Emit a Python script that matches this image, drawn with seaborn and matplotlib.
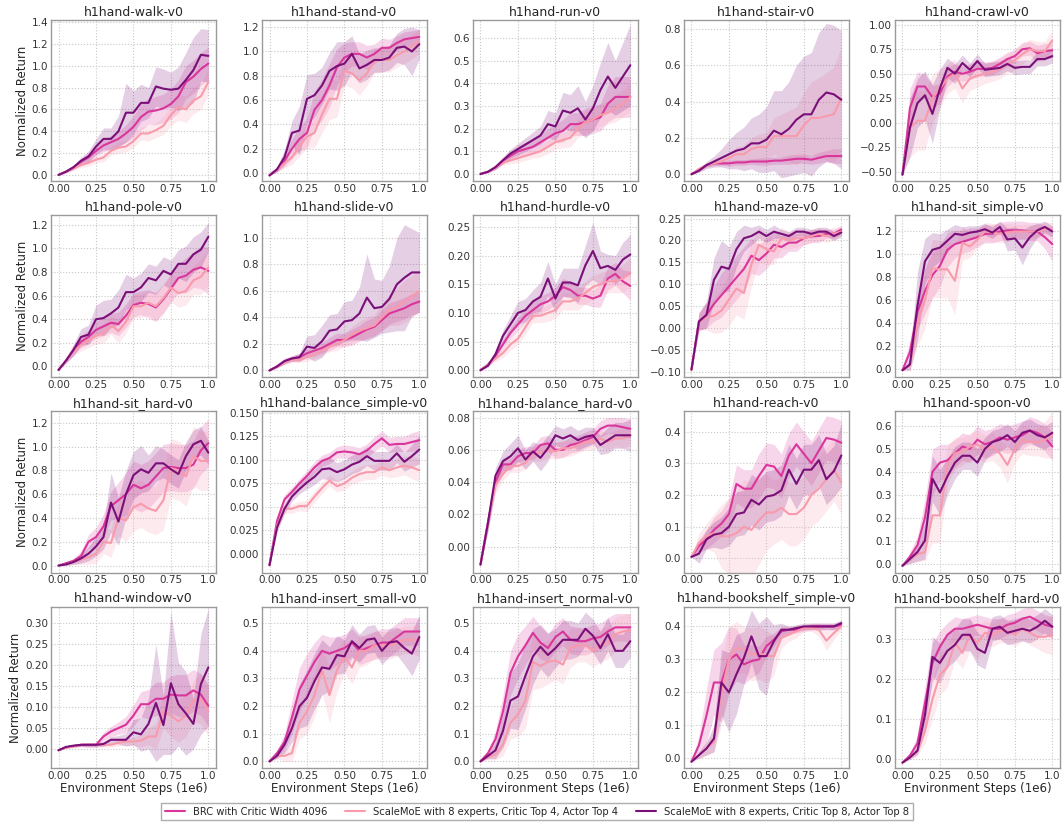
import numpy as np
import pandas as pd
import matplotlib
matplotlib.use("Agg")
import matplotlib.pyplot as plt
import seaborn as sns

# ---------------------------------------------------------------------------
# Evaluation steps (millions of environment steps)
STEPS = [0.00, 0.05, 0.10, 0.15, 0.20, 0.25, 0.30, 0.35, 0.40, 0.45, 0.50,
         0.55, 0.60, 0.65, 0.70, 0.75, 0.80, 0.85, 0.90, 0.95, 1.00]

METHODS = ["BRC with Critic Width 4096",
           "ScaleMoE with 8 experts, Critic Top 4, Actor Top 4",
           "ScaleMoE with 8 experts, Critic Top 8, Actor Top 8"]

# --- h1hand-walk-v0 --------------------------------------------------------
WALK_BRC = [0, .03, .07, .12, .16, .22, .27, .30, .33, .38, .44, .53, .58, .59, .61, .65, .72, .85, .90, .97, 1.02]
WALK_TOP4 = [0, .03, .06, .09, .11, .14, .16, .22, .25, .26, .31, .38, .38, .41, .45, .55, .62, .60, .68, .72, .85]
WALK_TOP8 = [0, .03, .07, .13, .17, .26, .33, .33, .40, .57, .57, .66, .66, .81, .79, .78, .79, .87, .96, 1.10, 1.09]
WALK_BRC_SD = [0, .01, .02, .03, .04, .05, .06, .06, .07, .08, .10, .12, .12, .13, .13, .14, .15, .15, .15, .15, .15]
WALK_TOP4_SD = [0, .01, .02, .02, .03, .03, .04, .04, .05, .05, .06, .06, .07, .07, .08, .10, .12, .12, .12, .12, .12]
WALK_TOP8_SD = [0, .01, .02, .03, .05, .07, .10, .10, .14, .27, .20, .17, .14, .18, .18, .16, .20, .25, .30, .24, .24]

# --- h1hand-stand-v0 -------------------------------------------------------
STAND_BRC = [-.02, .03, .10, .20, .28, .33, .52, .60, .72, .87, .95, .98, .98, .95, .98, 1.03, 1.03, 1.07, 1.10, 1.11, 1.12]
STAND_TOP4 = [-.02, .03, .08, .13, .22, .30, .33, .48, .61, .61, .84, .82, .76, .82, .92, .93, .93, .97, 1.00, 1.04, 1.08]
STAND_TOP8 = [-.02, .03, .13, .33, .35, .61, .64, .72, .84, .88, .90, .98, .86, .89, .93, .93, .95, 1.03, 1.04, 1.00, 1.06]
STAND_BRC_SD = [0, .02, .05, .08, .10, .12, .15, .17, .18, .15, .12, .10, .10, .10, .08, .08, .07, .06, .06, .06, .06]
STAND_TOP4_SD = [0, .02, .04, .06, .08, .10, .12, .15, .17, .15, .12, .12, .12, .10, .10, .10, .10, .10, .10, .10, .10]
STAND_TOP8_SD = [0, .02, .06, .10, .20, .20, .18, .15, .15, .20, .18, .15, .12, .12, .10, .10, .10, .12, .15, .20, .12]

# --- h1hand-run-v0 ---------------------------------------------------------
RUN_BRC = [0, .01, .03, .06, .08, .10, .11, .12, .14, .16, .18, .19, .22, .22, .23, .24, .25, .31, .34, .34, .34]
RUN_TOP4 = [0, .01, .03, .05, .06, .07, .08, .09, .10, .12, .14, .15, .16, .20, .23, .24, .26, .27, .29, .31, .34]
RUN_TOP8 = [0, .01, .03, .06, .09, .11, .13, .15, .17, .22, .21, .28, .27, .29, .24, .29, .37, .43, .38, .43, .48]
RUN_BRC_SD = [0, .005, .01, .015, .02, .025, .03, .03, .035, .04, .04, .05, .05, .05, .06, .06, .06, .08, .09, .09, .09]
RUN_TOP4_SD = [0, .005, .01, .01, .015, .02, .02, .02, .025, .03, .03, .035, .04, .04, .05, .05, .05, .05, .06, .06, .06]
RUN_TOP8_SD = [0, .005, .01, .015, .02, .025, .03, .035, .04, .06, .06, .08, .08, .10, .08, .10, .12, .15, .12, .15, .18]

# --- h1hand-stair-v0 -------------------------------------------------------
STAIR_BRC = [0, .02, .05, .06, .06, .06, .065, .065, .07, .07, .07, .075, .075, .08, .085, .085, .08, .09, .10, .10, .10]
STAIR_TOP4 = [0, .03, .05, .06, .07, .09, .11, .11, .14, .15, .15, .21, .21, .21, .21, .27, .31, .31, .32, .33, .42]
STAIR_TOP8 = [0, .02, .05, .07, .09, .11, .13, .14, .17, .17, .19, .24, .22, .25, .30, .33, .33, .41, .45, .44, .41]
STAIR_BRC_SD = [0, .005, .01, .01, .01, .015, .015, .015, .015, .02, .02, .02, .02, .025, .025, .025, .025, .03, .03, .04, .04]
STAIR_TOP4_SD = [0, .01, .01, .015, .02, .03, .04, .05, .06, .07, .08, .10, .12, .14, .16, .18, .20, .22, .24, .26, .28]
STAIR_TOP8_SD = [0, .01, .02, .03, .05, .08, .10, .12, .14, .16, .18, .22, .24, .26, .30, .32, .34, .37, .38, .38, .38]

# --- h1hand-crawl-v0 -------------------------------------------------------
CRAWL_BRC = [-.53, .15, .37, .37, .26, .30, .47, .52, .50, .52, .55, .55, .56, .60, .65, .68, .75, .76, .71, .73, .74]
CRAWL_TOP4 = [-.53, -.05, .02, .02, .25, .35, .45, .50, .35, .45, .48, .50, .52, .55, .60, .64, .70, .75, .73, .73, .84]
CRAWL_TOP8 = [-.53, -.05, .20, .28, .09, .35, .56, .50, .61, .54, .63, .54, .55, .56, .60, .56, .57, .57, .65, .65, .68]
CRAWL_BRC_SD = [0, .20, .15, .12, .12, .10, .10, .08, .08, .08, .08, .07, .07, .07, .07, .07, .07, .07, .08, .08, .08]
CRAWL_TOP4_SD = [0, .30, .30, .30, .25, .20, .15, .15, .15, .12, .12, .10, .10, .10, .10, .10, .10, .10, .10, .10, .10]
CRAWL_TOP8_SD = [0, .30, .25, .25, .30, .20, .10, .10, .08, .07, .07, .07, .07, .07, .07, .07, .07, .07, .07, .07, .07]

# --- h1hand-pole-v0 --------------------------------------------------------
POLE_BRC = [-.03, .05, .14, .21, .25, .31, .34, .37, .36, .43, .52, .54, .53, .50, .57, .66, .75, .77, .82, .84, .81]
POLE_TOP4 = [-.03, .05, .13, .18, .22, .26, .28, .35, .30, .38, .51, .51, .54, .51, .58, .67, .62, .64, .73, .76, .84]
POLE_TOP8 = [-.03, .05, .14, .25, .27, .40, .41, .45, .50, .63, .63, .67, .75, .73, .81, .78, .87, .87, .95, .99, 1.10]
POLE_BRC_SD = [0, .02, .04, .05, .06, .07, .08, .08, .10, .10, .10, .10, .12, .12, .12, .12, .12, .15, .15, .18, .20]
POLE_TOP4_SD = [0, .02, .04, .05, .06, .07, .08, .08, .10, .10, .10, .10, .10, .12, .12, .12, .12, .12, .12, .15, .15]
POLE_TOP8_SD = [0, .02, .05, .07, .08, .12, .15, .12, .15, .15, .12, .12, .12, .12, .12, .12, .12, .15, .15, .15, .12]

# --- h1hand-slide-v0 -------------------------------------------------------
SLIDE_BRC = [0, .03, .07, .09, .10, .13, .15, .17, .20, .23, .23, .25, .28, .31, .33, .38, .43, .45, .47, .50, .52]
SLIDE_TOP4 = [0, .03, .06, .08, .08, .10, .12, .15, .18, .20, .23, .27, .30, .32, .34, .40, .46, .48, .52, .56, .60]
SLIDE_TOP8 = [0, .03, .07, .09, .10, .18, .17, .22, .30, .31, .37, .38, .43, .55, .47, .48, .54, .65, .70, .74, .74]
SLIDE_BRC_SD = [0, .01, .02, .02, .03, .03, .04, .04, .05, .05, .05, .06, .06, .07, .07, .08, .08, .08, .08, .08, .08]
SLIDE_TOP4_SD = [0, .01, .02, .02, .02, .03, .03, .04, .04, .05, .05, .06, .07, .08, .08, .10, .12, .14, .16, .16, .16]
SLIDE_TOP8_SD = [0, .01, .02, .02, .03, .08, .10, .12, .12, .12, .15, .15, .20, .33, .22, .20, .25, .35, .40, .33, .30]

# --- h1hand-hurdle-v0 ------------------------------------------------------
HURDLE_BRC = [0, .01, .025, .045, .065, .08, .095, .105, .115, .12, .13, .145, .14, .13, .13, .125, .13, .16, .168, .155, .147]
HURDLE_TOP4 = [0, .01, .02, .03, .045, .055, .075, .095, .095, .10, .105, .12, .12, .125, .135, .145, .15, .155, .155, .16, .17]
HURDLE_TOP8 = [0, .008, .028, .06, .08, .10, .105, .12, .128, .16, .125, .153, .153, .148, .183, .208, .178, .182, .175, .193, .202]
HURDLE_BRC_SD = [0, .003, .005, .008, .01, .012, .012, .015, .015, .015, .015, .015, .015, .015, .015, .015, .02, .02, .02, .02, .025]
HURDLE_TOP4_SD = [0, .003, .005, .008, .01, .01, .012, .012, .012, .015, .015, .015, .015, .02, .02, .02, .02, .02, .02, .025, .025]
HURDLE_TOP8_SD = [0, .003, .006, .01, .015, .02, .02, .02, .025, .03, .025, .025, .025, .03, .035, .05, .03, .02, .025, .03, .035]

# --- h1hand-maze-v0 --------------------------------------------------------
MAZE_BRC = [-.095, .015, .03, .055, .075, .095, .115, .135, .165, .155, .17, .19, .185, .195, .195, .205, .21, .21, .215, .215, .225]
MAZE_TOP4 = [-.095, .015, .025, .028, .04, .065, .09, .08, .145, .19, .18, .175, .205, .20, .205, .205, .21, .215, .21, .215, .22]
MAZE_TOP8 = [-.095, .015, .03, .11, .14, .135, .18, .205, .21, .22, .21, .22, .215, .21, .22, .22, .215, .22, .22, .21, .218]
MAZE_BRC_SD = [0, .02, .03, .04, .05, .05, .05, .05, .04, .035, .035, .03, .025, .02, .02, .015, .015, .015, .01, .01, .01]
MAZE_TOP4_SD = [0, .02, .03, .04, .05, .06, .06, .06, .05, .04, .035, .03, .025, .02, .02, .015, .015, .015, .015, .015, .01]
MAZE_TOP8_SD = [0, .02, .03, .05, .06, .05, .04, .03, .02, .015, .015, .015, .01, .01, .01, .01, .01, .01, .01, .01, .01]

# --- h1hand-sit_simple-v0 --------------------------------------------------
SITS_BRC = [-.01, .15, .50, .68, .82, .90, 1.04, 1.09, 1.11, 1.13, 1.15, 1.18, 1.18, 1.20, 1.21, 1.21, 1.21, 1.20, 1.20, 1.15, 1.09]
SITS_TOP4 = [-.01, .03, .40, .60, .88, .87, .87, .77, 1.10, 1.07, 1.13, 1.20, 1.19, 1.18, 1.19, 1.20, 1.20, 1.20, 1.20, 1.22, 1.22]
SITS_TOP8 = [-.01, .04, .55, .94, 1.04, 1.06, 1.12, 1.18, 1.17, 1.19, 1.20, 1.22, 1.19, 1.24, 1.13, 1.14, 1.06, 1.15, 1.21, 1.24, 1.20]
SITS_BRC_SD = [0, .10, .15, .20, .20, .18, .15, .12, .10, .10, .08, .08, .08, .08, .08, .08, .08, .08, .08, .10, .15]
SITS_TOP4_SD = [0, .05, .20, .25, .25, .25, .25, .30, .15, .10, .08, .08, .08, .08, .08, .06, .06, .06, .06, .06, .06]
SITS_TOP8_SD = [0, .05, .30, .20, .15, .12, .10, .08, .07, .06, .05, .05, .05, .05, .10, .10, .15, .10, .06, .05, .05]

# --- h1hand-sit_hard-v0 ----------------------------------------------------
SITH_BRC = [0, .02, .04, .08, .20, .24, .33, .50, .55, .60, .68, .65, .68, .75, .82, .83, .82, .82, .85, .97, 1.03]
SITH_TOP4 = [0, .01, .03, .05, .07, .10, .20, .19, .40, .38, .49, .52, .48, .46, .55, .82, .80, .75, .92, .88, .88]
SITH_TOP8 = [0, .01, .03, .06, .10, .16, .24, .53, .37, .60, .76, .81, .78, .86, .86, .81, .77, .92, 1.02, 1.05, .95]
SITH_BRC_SD = [0, .01, .02, .04, .06, .08, .10, .12, .15, .18, .20, .20, .20, .20, .20, .20, .20, .20, .20, .20, .20]
SITH_TOP4_SD = [0, .01, .02, .04, .06, .08, .10, .12, .15, .18, .20, .20, .20, .20, .25, .25, .25, .25, .25, .25, .25]
SITH_TOP8_SD = [0, .01, .02, .04, .06, .08, .10, .25, .20, .20, .20, .20, .15, .15, .12, .12, .12, .12, .12, .12, .10]

# --- h1hand-balance_simple-v0 ----------------------------------------------
BALS_BRC = [-.012, .035, .058, .066, .075, .083, .092, .099, .102, .108, .109, .108, .106, .110, .117, .123, .116, .117, .117, .119, .121]
BALS_TOP4 = [-.012, .030, .048, .048, .051, .051, .061, .070, .078, .072, .075, .081, .085, .087, .087, .092, .089, .092, .094, .092, .089]
BALS_TOP8 = [-.012, .028, .048, .061, .069, .076, .082, .090, .091, .087, .090, .095, .098, .104, .099, .099, .099, .107, .098, .104, .111]
BALS_BRC_SD = [0, .005, .005, .005, .005, .006, .006, .006, .006, .006, .007, .007, .007, .007, .008, .008, .008, .008, .008, .010, .010]
BALS_TOP4_SD = [0, .005, .005, .005, .005, .006, .006, .006, .006, .006, .007, .007, .008, .008, .008, .008, .008, .010, .010, .012, .012]
BALS_TOP8_SD = [0, .005, .005, .005, .005, .007, .008, .010, .012, .010, .010, .010, .010, .010, .010, .010, .010, .010, .010, .012, .015]

# --- h1hand-balance_hard-v0 ------------------------------------------------
BALH_BRC = [-.011, .015, .040, .051, .051, .056, .058, .058, .063, .064, .060, .060, .063, .064, .066, .068, .073, .075, .075, .074, .073]
BALH_TOP4 = [-.011, .015, .038, .045, .050, .050, .052, .058, .058, .060, .059, .061, .061, .063, .065, .065, .067, .065, .067, .067, .069]
BALH_TOP8 = [-.011, .015, .044, .053, .056, .061, .054, .059, .055, .061, .069, .067, .069, .066, .068, .069, .063, .066, .069, .069, .069]
BALH_BRC_SD = [0, .005, .005, .004, .004, .004, .004, .004, .005, .005, .005, .005, .005, .005, .005, .005, .005, .005, .005, .006, .006]
BALH_TOP4_SD = [0, .005, .005, .004, .004, .004, .004, .005, .005, .005, .005, .005, .005, .005, .005, .005, .005, .005, .005, .006, .006]
BALH_TOP8_SD = [0, .005, .005, .006, .008, .008, .006, .006, .008, .008, .006, .006, .006, .006, .006, .005, .006, .008, .008, .008, .010]

# --- h1hand-reach-v0 -------------------------------------------------------
REACH_BRC = [.005, .04, .06, .09, .11, .14, .235, .22, .22, .26, .295, .29, .26, .325, .36, .33, .30, .34, .38, .375, .365]
REACH_TOP4 = [.005, .05, .07, .08, .07, .07, .08, .10, .09, .12, .145, .145, .16, .14, .14, .16, .20, .22, .25, .28, .24]
REACH_TOP8 = [.005, .015, .06, .075, .08, .10, .14, .145, .185, .17, .195, .20, .215, .28, .235, .28, .28, .31, .25, .275, .325]
REACH_BRC_SD = [0, .02, .03, .04, .04, .05, .06, .06, .06, .07, .07, .07, .07, .07, .07, .07, .07, .07, .07, .07, .07]
REACH_TOP4_SD = [0, .03, .04, .06, .10, .12, .13, .15, .15, .14, .12, .10, .10, .10, .10, .10, .10, .10, .10, .10, .10]
REACH_TOP8_SD = [0, .03, .03, .04, .05, .06, .07, .07, .08, .08, .08, .08, .08, .08, .08, .08, .08, .08, .08, .08, .10]

# --- h1hand-spoon-v0 -------------------------------------------------------
SPOON_BRC = [-.01, .03, .08, .20, .40, .44, .45, .48, .51, .50, .54, .52, .53, .55, .54, .55, .56, .58, .57, .55, .51]
SPOON_TOP4 = [-.01, .02, .04, .05, .21, .21, .43, .48, .49, .51, .52, .50, .51, .48, .43, .50, .54, .53, .53, .54, .56]
SPOON_TOP8 = [-.01, .02, .05, .10, .37, .31, .38, .44, .47, .47, .44, .50, .53, .54, .56, .53, .57, .58, .56, .55, .57]
SPOON_BRC_SD = [0, .02, .04, .08, .10, .08, .07, .06, .06, .06, .06, .06, .06, .06, .06, .06, .06, .06, .06, .06, .06]
SPOON_TOP4_SD = [0, .02, .03, .04, .12, .12, .08, .07, .06, .06, .06, .06, .06, .06, .08, .06, .06, .06, .06, .08, .10]
SPOON_TOP8_SD = [0, .02, .04, .08, .10, .10, .08, .07, .06, .06, .06, .05, .05, .05, .05, .05, .05, .05, .05, .05, .05]

# --- h1hand-window-v0 ------------------------------------------------------
WINDOW_BRC = [-.003, .004, .007, .01, .01, .01, .03, .042, .05, .058, .08, .107, .107, .12, .12, .13, .128, .128, .14, .13, .103]
WINDOW_TOP4 = [-.003, .003, .006, .01, .01, .01, .01, .01, .015, .018, .018, .02, .03, .03, .09, .08, .066, .08, .115, .12, .09]
WINDOW_TOP8 = [-.003, .005, .008, .01, .01, .01, .012, .022, .022, .022, .04, .035, .06, .11, .057, .157, .107, .085, .06, .155, .195]
WINDOW_BRC_SD = [0, .002, .003, .004, .005, .005, .01, .012, .015, .02, .025, .03, .035, .04, .04, .045, .05, .05, .05, .05, .05]
WINDOW_TOP4_SD = [0, .002, .003, .004, .005, .005, .005, .006, .008, .01, .01, .015, .02, .03, .04, .05, .05, .05, .05, .06, .06]
WINDOW_TOP8_SD = [0, .002, .003, .004, .005, .005, .006, .008, .01, .015, .03, .04, .06, .14, .07, .17, .10, .10, .06, .12, .14]

# --- h1hand-insert_small-v0 ------------------------------------------------
INSS_BRC = [0, .03, .07, .16, .26, .31, .36, .40, .39, .40, .41, .43, .40, .41, .42, .43, .43, .45, .47, .47, .47]
INSS_TOP4 = [0, .02, .02, .03, .14, .18, .24, .33, .24, .33, .38, .34, .40, .40, .42, .42, .42, .43, .44, .44, .44]
INSS_TOP8 = [0, .02, .06, .12, .20, .23, .29, .34, .335, .385, .38, .435, .41, .44, .445, .40, .43, .435, .41, .39, .45]
INSS_BRC_SD = [0, .01, .03, .06, .08, .08, .07, .06, .06, .05, .05, .05, .05, .05, .05, .05, .05, .05, .05, .05, .05]
INSS_TOP4_SD = [0, .01, .02, .03, .06, .08, .08, .08, .10, .08, .06, .06, .06, .05, .05, .05, .05, .05, .05, .05, .06]
INSS_TOP8_SD = [0, .01, .03, .05, .08, .10, .10, .10, .08, .07, .06, .06, .05, .05, .05, .05, .05, .05, .06, .08, .08]

# --- h1hand-insert_normal-v0 -----------------------------------------------
INSN_BRC = [0, .03, .08, .18, .32, .38, .42, .465, .43, .41, .45, .47, .44, .435, .435, .445, .45, .47, .485, .485, .485]
INSN_TOP4 = [0, .015, .025, .06, .14, .17, .22, .36, .345, .36, .365, .35, .41, .42, .42, .40, .42, .43, .46, .47, .475]
INSN_TOP8 = [0, .02, .04, .11, .22, .235, .31, .38, .415, .385, .41, .44, .44, .44, .48, .455, .41, .46, .40, .40, .435]
INSN_BRC_SD = [0, .01, .03, .06, .08, .08, .07, .06, .06, .05, .05, .05, .05, .05, .05, .05, .05, .05, .05, .05, .05]
INSN_TOP4_SD = [0, .01, .02, .04, .06, .08, .10, .10, .08, .08, .07, .07, .07, .06, .06, .06, .06, .06, .06, .06, .06]
INSN_TOP8_SD = [0, .01, .03, .06, .10, .12, .12, .10, .08, .08, .07, .07, .07, .06, .06, .06, .06, .06, .06, .06, .06]

# --- h1hand-bookshelf_simple-v0 --------------------------------------------
BOOKS_BRC = [-.01, .04, .13, .23, .23, .30, .315, .285, .295, .30, .34, .36, .385, .39, .39, .395, .40, .40, .40, .40, .405]
BOOKS_TOP4 = [-.01, .01, .03, .05, .20, .30, .335, .33, .315, .32, .31, .31, .365, .375, .385, .395, .395, .39, .357, .38, .40]
BOOKS_TOP8 = [-.01, .01, .03, .06, .23, .20, .255, .305, .37, .31, .31, .355, .39, .39, .395, .40, .40, .40, .40, .40, .41]
BOOKS_BRC_SD = [0, .03, .08, .10, .12, .10, .08, .06, .05, .04, .03, .02, .015, .01, .01, .01, .01, .01, .01, .01, .01]
BOOKS_TOP4_SD = [0, .01, .02, .03, .10, .10, .08, .07, .08, .08, .08, .06, .03, .02, .02, .01, .01, .02, .03, .02, .01]
BOOKS_TOP8_SD = [0, .01, .02, .04, .10, .12, .12, .08, .08, .10, .12, .05, .02, .01, .01, .01, .01, .01, .01, .01, .01]

# --- h1hand-bookshelf_hard-v0 ----------------------------------------------
BOOKH_BRC = [-.008, .01, .04, .14, .24, .28, .31, .325, .325, .33, .335, .33, .325, .325, .335, .34, .35, .355, .345, .335, .33]
BOOKH_TOP4 = [-.008, .005, .02, .07, .15, .21, .23, .29, .265, .31, .29, .315, .31, .32, .32, .31, .325, .315, .305, .305, .31]
BOOKH_TOP8 = [-.008, .005, .022, .11, .255, .24, .27, .285, .31, .31, .275, .265, .325, .33, .315, .32, .325, .32, .33, .345, .33]
BOOKH_BRC_SD = [0, .005, .02, .04, .05, .04, .03, .03, .025, .025, .025, .025, .025, .025, .025, .025, .025, .025, .025, .025, .025]
BOOKH_TOP4_SD = [0, .005, .01, .03, .05, .05, .05, .04, .04, .04, .04, .03, .03, .03, .03, .03, .03, .03, .03, .04, .05]
BOOKH_TOP8_SD = [0, .005, .01, .04, .05, .05, .04, .04, .04, .04, .04, .04, .03, .03, .03, .03, .03, .03, .03, .03, .03]

# Task name, means (BRC, Top4, Top8), spreads, y-axis limits and tick step
TASKS = [
    ("h1hand-walk-v0", (WALK_BRC, WALK_TOP4, WALK_TOP8), (WALK_BRC_SD, WALK_TOP4_SD, WALK_TOP8_SD), (-0.06, 1.42), 0.2),
    ("h1hand-stand-v0", (STAND_BRC, STAND_TOP4, STAND_TOP8), (STAND_BRC_SD, STAND_TOP4_SD, STAND_TOP8_SD), (-0.07, 1.26), 0.2),
    ("h1hand-run-v0", (RUN_BRC, RUN_TOP4, RUN_TOP8), (RUN_BRC_SD, RUN_TOP4_SD, RUN_TOP8_SD), (-0.033, 0.68), 0.1),
    ("h1hand-stair-v0", (STAIR_BRC, STAIR_TOP4, STAIR_TOP8), (STAIR_BRC_SD, STAIR_TOP4_SD, STAIR_TOP8_SD), (-0.04, 0.85), 0.2),
    ("h1hand-crawl-v0", (CRAWL_BRC, CRAWL_TOP4, CRAWL_TOP8), (CRAWL_BRC_SD, CRAWL_TOP4_SD, CRAWL_TOP8_SD), (-0.6, 1.05), 0.25),
    ("h1hand-pole-v0", (POLE_BRC, POLE_TOP4, POLE_TOP8), (POLE_BRC_SD, POLE_TOP4_SD, POLE_TOP8_SD), (-0.09, 1.28), 0.2),
    ("h1hand-slide-v0", (SLIDE_BRC, SLIDE_TOP4, SLIDE_TOP8), (SLIDE_BRC_SD, SLIDE_TOP4_SD, SLIDE_TOP8_SD), (-0.05, 1.17), 0.2),
    ("h1hand-hurdle-v0", (HURDLE_BRC, HURDLE_TOP4, HURDLE_TOP8), (HURDLE_BRC_SD, HURDLE_TOP4_SD, HURDLE_TOP8_SD), (-0.012, 0.27), 0.05),
    ("h1hand-maze-v0", (MAZE_BRC, MAZE_TOP4, MAZE_TOP8), (MAZE_BRC_SD, MAZE_TOP4_SD, MAZE_TOP8_SD), (-0.112, 0.257), 0.05),
    ("h1hand-sit_simple-v0", (SITS_BRC, SITS_TOP4, SITS_TOP8), (SITS_BRC_SD, SITS_TOP4_SD, SITS_TOP8_SD), (-0.07, 1.34), 0.2),
    ("h1hand-sit_hard-v0", (SITH_BRC, SITH_TOP4, SITH_TOP8), (SITH_BRC_SD, SITH_TOP4_SD, SITH_TOP8_SD), (-0.06, 1.3), 0.2),
    ("h1hand-balance_simple-v0", (BALS_BRC, BALS_TOP4, BALS_TOP8), (BALS_BRC_SD, BALS_TOP4_SD, BALS_TOP8_SD), (-0.02, 0.152), 0.025),
    ("h1hand-balance_hard-v0", (BALH_BRC, BALH_TOP4, BALH_TOP8), (BALH_BRC_SD, BALH_TOP4_SD, BALH_TOP8_SD), (-0.016, 0.084), 0.02),
    ("h1hand-reach-v0", (REACH_BRC, REACH_TOP4, REACH_TOP8), (REACH_BRC_SD, REACH_TOP4_SD, REACH_TOP8_SD), (-0.045, 0.465), 0.1),
    ("h1hand-spoon-v0", (SPOON_BRC, SPOON_TOP4, SPOON_TOP8), (SPOON_BRC_SD, SPOON_TOP4_SD, SPOON_TOP8_SD), (-0.04, 0.665), 0.1),
    ("h1hand-window-v0", (WINDOW_BRC, WINDOW_TOP4, WINDOW_TOP8), (WINDOW_BRC_SD, WINDOW_TOP4_SD, WINDOW_TOP8_SD), (-0.046, 0.34), 0.05),
    ("h1hand-insert_small-v0", (INSS_BRC, INSS_TOP4, INSS_TOP8), (INSS_BRC_SD, INSS_TOP4_SD, INSS_TOP8_SD), (-0.025, 0.56), 0.1),
    ("h1hand-insert_normal-v0", (INSN_BRC, INSN_TOP4, INSN_TOP8), (INSN_BRC_SD, INSN_TOP4_SD, INSN_TOP8_SD), (-0.025, 0.56), 0.1),
    ("h1hand-bookshelf_simple-v0", (BOOKS_BRC, BOOKS_TOP4, BOOKS_TOP8), (BOOKS_BRC_SD, BOOKS_TOP4_SD, BOOKS_TOP8_SD), (-0.03, 0.46), 0.1),
    ("h1hand-bookshelf_hard-v0", (BOOKH_BRC, BOOKH_TOP4, BOOKH_TOP8), (BOOKH_BRC_SD, BOOKH_TOP4_SD, BOOKH_TOP8_SD), (-0.022, 0.38), 0.1),
]

COLORS = ["#d9359b", "#f99aac", "#7b0f79"]
X_TICKS = [0.0, 0.25, 0.5, 0.75, 1.0]
X_TICKLABELS = ["0.00", "0.25", "0.50", "0.75", "1.0"]

# ---------------------------------------------------------------------------
sns.set_theme(style="whitegrid")
plt.rcParams.update({
    "font.family": ["DejaVu Sans"],
    "axes.edgecolor": "#9a9a9a",
    "axes.linewidth": 1.0,
    "grid.color": "#c8c8c8",
    "grid.linestyle": ":",
    "grid.linewidth": 0.8,
    "text.color": "#262626",
    "axes.labelcolor": "#262626",
    "xtick.color": "#333333",
    "ytick.color": "#333333",
})

fig, axes = plt.subplots(4, 5, figsize=(10.63, 8.27), dpi=100)
fig.subplots_adjust(left=0.048, right=0.997, top=0.976, bottom=0.071,
                    wspace=0.28, hspace=0.21)

palette = dict(zip(METHODS, COLORS))

for idx, (ax, (name, means, spreads, ylim, step)) in enumerate(zip(axes.flat, TASKS)):
    frames = []
    for method, mean in zip(METHODS, means):
        frames.append(pd.DataFrame({"step": STEPS, "ret": mean, "method": method}))
    df = pd.concat(frames, ignore_index=True)

    for method, mean, sd in zip(METHODS, means, spreads):
        m = np.asarray(mean)
        s = np.asarray(sd)
        ax.fill_between(STEPS, m - s, m + s, color=palette[method],
                        alpha=0.2, linewidth=0)

    sns.lineplot(data=df, x="step", y="ret", hue="method", palette=palette,
                 hue_order=METHODS, linewidth=1.5, legend=False, ax=ax)

    ax.set_title(name, fontsize=9, pad=3)
    ax.set_xlim(-0.05, 1.05)
    ax.set_ylim(*ylim)
    lo = np.ceil(ylim[0] / step - 1e-9) * step
    ax.set_yticks(np.arange(lo, ylim[1] + 1e-9, step))
    ax.set_xticks(X_TICKS)
    ax.set_xticklabels(X_TICKLABELS)
    ax.tick_params(axis="both", labelsize=7.5, pad=2, length=0)
    ax.set_xlabel("Environment Steps (1e6)" if idx >= 15 else "", fontsize=8.5, labelpad=1)
    ax.set_ylabel("Normalized Return" if idx % 5 == 0 else "", fontsize=8.5, labelpad=2)
    for spine in ax.spines.values():
        spine.set_visible(True)

handles = [plt.Line2D([], [], color=c, lw=1.5) for c in COLORS]
fig.legend(handles, METHODS, loc="lower center", bbox_to_anchor=(0.505, 0.002),
           ncol=3, fontsize=7.2, frameon=True, edgecolor="#9a9a9a",
           fancybox=False, handlelength=2.0, handletextpad=0.8,
           columnspacing=1.8, borderpad=0.35)

fig.savefig("out.png", dpi=100)
